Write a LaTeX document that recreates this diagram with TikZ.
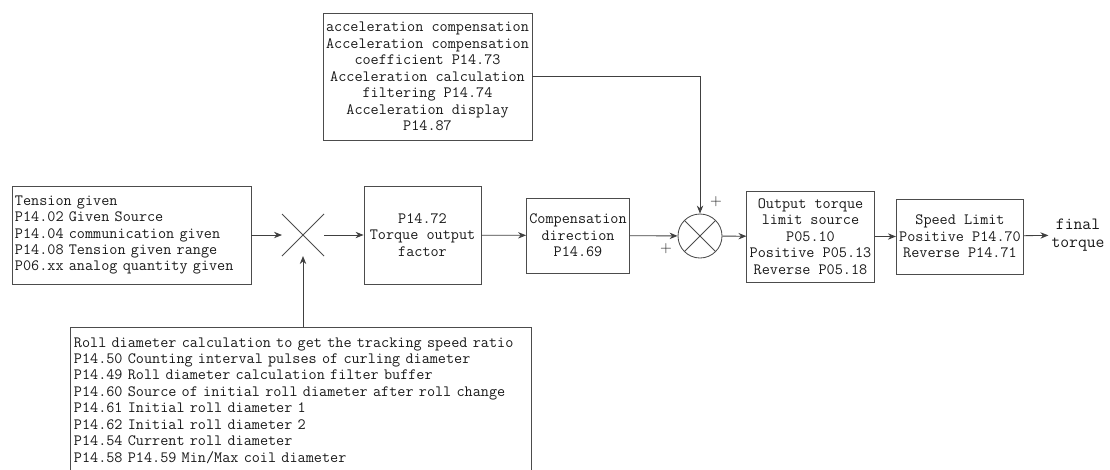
\documentclass[tikz,border=0pt]{standalone}
\usepackage{fontspec}
\usetikzlibrary{arrows.meta,positioning,shapes.misc}

\begin{document}
\begin{tikzpicture}[x=0.025cm,y=-0.025cm,>={Stealth[length=2mm,width=1.6mm]},
	every node/.style={font=\fontsize{11.2}{11.7}\selectfont\ttfamily,text=black!90},
	blk/.style={draw=black!70,line width=0.6pt,align=center,inner sep=2pt},
	txtblk/.style={draw=black!70,line width=0.6pt,align=left,inner xsep=0.075cm},
	boxline/.style={draw=black!70,line width=0.6pt},
	link/.style={->,draw=black!75,line width=0.6pt}
	]
	\useasboundingbox (0,0) rectangle (1110,469);
	\clip (0,0) rectangle (1110,469);

	% main chain
	\node[txtblk,text width=5.825cm,minimum height=2.45cm] (tension) at (131.5,235) {Tension given\\P14.02 Given Source\\P14.04 communication given\\P14.08 Tension given range\\P06.xx analog quantity given};
	\node[cross out,draw=black!70,line width=0.6pt,minimum size=0.8cm,outer sep=0.125cm] (mul) at (303,235) {};
	\node[blk,minimum width=2.925cm,minimum height=2.45cm] (factor) at (422.5,235) {P14.72\\Torque output\\factor};
	\node[blk,minimum width=2.55cm,minimum height=1.875cm] (comp) at (578,235.5) {Compensation\\direction\\P14.69};
	\node[circle,draw=black!70,line width=0.6pt,minimum size=1.1cm,inner sep=0pt,
		path picture={\draw[black!70,line width=0.6pt] (path picture bounding box.north west) -- (path picture bounding box.south east) (path picture bounding box.north east) -- (path picture bounding box.south west);}] (sum) at (700,236) {};
	\node[blk,minimum width=3.125cm,minimum height=2.275cm] (output) at (810.5,236.5) {Output torque\\limit source\\P05.10\\Positive P05.13\\Reverse P05.18};
	\node[blk,minimum width=3.1cm,minimum height=1.875cm] (speed) at (960,236.5) {Speed Limit\\Positive P14.70\\Reverse P14.71};
	\node[align=center,font=\fontsize{12.2}{12.6}\selectfont\ttfamily,inner sep=2pt] (final) at (1078,235) {final\\torque};

	% side inputs
	\node[blk,minimum width=5.225cm,minimum height=3.175cm] (accel) at (427.5,76.5) {acceleration compensation\\Acceleration compensation\\coefficient P14.73\\Acceleration calculation\\filtering P14.74\\Acceleration display\\P14.87};
	\node[txtblk,draw=none,text width=11.35cm,inner ysep=0.25cm,anchor=north] (roll) at (301,327) {Roll diameter calculation to get the tracking speed ratio\\P14.50 Counting interval pulses of curling diameter\\P14.49 Roll diameter calculation filter buffer\\P14.60 Source of initial roll diameter after roll change\\P14.61 Initial roll diameter 1\\P14.62 Initial roll diameter 2\\P14.54 Current roll diameter\\P14.58 P14.59 Min/Max coil diameter};
	% box runs off the bottom edge
	\draw[boxline] ([yshift=-1cm]roll.south west) -- (roll.north west) -- (roll.north east) -- ([yshift=-1cm]roll.south east);

	\node[font=\fontsize{11}{11}\selectfont] (plusl) at (666,249) {+};
	\node[font=\fontsize{11}{11}\selectfont] (plusr) at (716,202) {+};

	\draw[link] (tension) -- (mul);
	\draw[link] (mul) -- (factor);
	\draw[link] (roll.north -| mul.south) -- (mul.south);
	\draw[link] (factor) -- (comp);
	\draw[link] (comp) -- (sum);
	\draw[link] (accel) -| (sum);
	\draw[link] (sum) -- (output);
	\draw[link] (output) -- (speed);
	\draw[link] (speed) -- (final);

\end{tikzpicture}
\end{document}
